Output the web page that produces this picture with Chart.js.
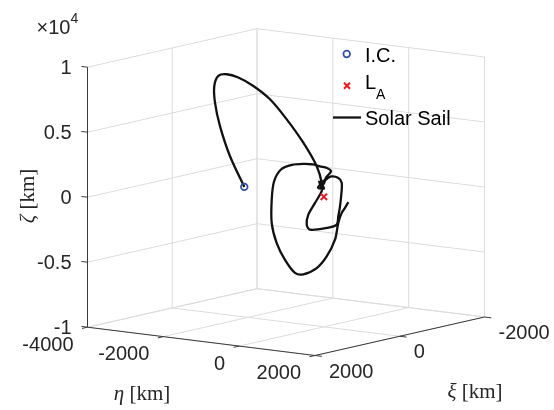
<!DOCTYPE html>
<html>
<head>
<meta charset="utf-8">
<script src="https://cdn.jsdelivr.net/npm/chart.js@4.4.1/dist/chart.umd.min.js"></script>
<style>
  html, body { margin: 0; padding: 0; background: #fff; }
  #wrap { width: 554px; height: 410px; position: relative; }
</style>
</head>
<body>
<div id="wrap"><canvas id="orbit"></canvas></div>
<script>
// trajectory in km (xi, eta, zeta)
const xi = [
  0, 200, 400, 600, 800, 800, 800, 800, 600, 400, 200, 0, 0, 0,
  0, 50, 0, -50, 0, 50,
  0, 100, 200, 300, 300, 300, 200, 100, 0, 0, 0, 0, 0, 0,
  0, 0,
  0, 0, 0, -100, -200, -300, -400, -500, -600, -700, -700, -600, -500, -400, -300, -200, -100, 0, 100, 200, 200, 200
];
const eta = [
  -2100, -2253, -2294, -2202, -1997, -1891, -1670, -1364, -1191, -975, -757, -544, -190, -58,
  -103, 58, -156, -54, -130, 5,
  -103, -123, -188, -119, -32, 408, 561, 491, 424, 458, 469, 371, 187, 29,
  -77, 2,
  55, 187, 81, -215, -512, -887, -1289, -1691, -1987, -2159, -2159, -1916, -1585, -1210, -879, -414, -39, 292, 491, 693, 780, 867
];
const zeta = [
  0, 2451, 4900, 6889, 8393, 9203, 9416, 9273, 8540, 7446, 5834, 3967, 2290, 1056,
  908, 1313, 657, 581, 1130, 598,
  136, -439, -1293, -1966, -2319, -2027, -1790, -1248, -575, 342, 1249, 1599, 1632, 1266,
  763, 1024,
  1507, 2018, 2250, 2183, 2156, 1983, 1685, 1116, 8, -1519, -3319, -4700, -5795, -6587, -6508, -5785, -4679, -3194, -1758, -838, -420, 59
];
const icPoint = [0, -2100, 0];
const laPoint = [0, 0, 0];

const xiTicks = [-2000, 0, 2000];
const xiTickLabels = ['-2000', '0', '2000'];
const etaTicks = [-4000, -2000, 0, 2000];
const etaTickLabels = ['-4000', '-2000', '0', '2000'];
const zetaTicks = [-10000, -5000, 0, 5000, 10000];
const zetaTickLabels = ['-1', '-0.5', '0', '0.5', '1'];

const legendNames = ['I.C.', 'L', 'Solar Sail'];

const xiMin = Math.min(...xiTicks), xiMax = Math.max(...xiTicks);
const etaMin = Math.min(...etaTicks), etaMax = Math.max(...etaTicks);
const zMin = Math.min(...zetaTicks), zMax = Math.max(...zetaTicks);

// screen position of the box corners (view of the 3D axes)
const corner = { front: [315, 355.5], left: [87.5, 327.2], right: [484.5, 317], up: 260 };

function project(x, y, z) {
  const a = (etaMax - y) / (etaMax - etaMin);
  const b = (xiMax - x) / (xiMax - xiMin);
  const c = (z - zMin) / (zMax - zMin);
  return {
    x: corner.front[0] + a * (corner.left[0] - corner.front[0]) + b * (corner.right[0] - corner.front[0]),
    y: corner.front[1] + a * (corner.left[1] - corner.front[1]) + b * (corner.right[1] - corner.front[1]) - c * corner.up
  };
}

const gridColor = '#dcdcdc';
const axisColor = '#3a3a3a';
const datasets = [];

function addLine(p, q, color, width, order) {
  datasets.push({
    data: [project(...p), project(...q)],
    showLine: true, borderColor: color, borderWidth: width,
    pointRadius: 0, tension: 0, order: order
  });
}

// grid on the two back walls and the floor
zetaTicks.forEach(z => {
  addLine([xiMax, etaMin, z], [xiMin, etaMin, z], gridColor, 1, 30);
  addLine([xiMin, etaMin, z], [xiMin, etaMax, z], gridColor, 1, 30);
});
xiTicks.forEach(x => {
  addLine([x, etaMin, zMin], [x, etaMin, zMax], gridColor, 1, 30);
  addLine([x, etaMin, zMin], [x, etaMax, zMin], gridColor, 1, 30);
});
etaTicks.forEach(y => {
  addLine([xiMin, y, zMin], [xiMin, y, zMax], gridColor, 1, 30);
  addLine([xiMax, y, zMin], [xiMin, y, zMin], gridColor, 1, 30);
});

// axis lines + ticks
addLine([xiMax, etaMin, zMin], [xiMax, etaMax, zMin], axisColor, 1, 20);
addLine([xiMax, etaMax, zMin], [xiMin, etaMax, zMin], axisColor, 1, 20);
addLine([xiMax, etaMin, zMin], [xiMax, etaMin, zMax], axisColor, 1, 20);
etaTicks.forEach(y => addLine([xiMax, y, zMin], [xiMax + 130, y, zMin], axisColor, 1, 20));
xiTicks.forEach(x => addLine([x, etaMax, zMin], [x, etaMax + 180, zMin], axisColor, 1, 20));
zetaTicks.forEach(z => addLine([xiMax, etaMin, z], [xiMax, etaMin - 160, z], axisColor, 1, 20));

// trajectory
datasets.push({
  data: xi.map((v, i) => project(v, eta[i], zeta[i])),
  showLine: true, borderColor: '#111', borderWidth: 2.3,
  pointRadius: 0, tension: 0.3, order: 10
});
datasets.push({
  data: [project(...icPoint)],
  pointStyle: 'circle', pointRadius: 3.3, pointBorderWidth: 1.7,
  pointBorderColor: '#2f4fa8', pointBackgroundColor: 'rgba(0,0,0,0)', order: 2
});
datasets.push({
  data: [project(...laPoint)],
  pointStyle: 'crossRot', pointRadius: 4.5, pointBorderWidth: 2,
  pointBorderColor: 'rgb(235,25,30)', order: 1
});

const labelsPlugin = {
  id: 'labels3d',
  afterDatasetsDraw(chart) {
    const ctx = chart.ctx;
    const sx = chart.scales.x, sy = chart.scales.y;
    const px = p => [sx.getPixelForValue(p.x), sy.getPixelForValue(p.y)];
    ctx.save();
    ctx.fillStyle = '#262626';
    ctx.font = '20px "Liberation Sans", Arial, sans-serif';
    ctx.textBaseline = 'middle';

    ctx.textAlign = 'right';
    zetaTicks.forEach((z, i) => {
      const [X, Y] = px(project(xiMax, etaMin, z));
      ctx.fillText(zetaTickLabels[i], X - 16, Y + 1);
    });
    etaTicks.forEach((v, i) => {
      const [X, Y] = px(project(xiMax, v, zMin));
      ctx.fillText(etaTickLabels[i], X - 14, Y + 18);
    });
    ctx.textAlign = 'left';
    xiTicks.forEach((v, i) => {
      const [X, Y] = px(project(v, etaMax, zMin));
      ctx.fillText(xiTickLabels[i], X + 14, Y + 16.5);
    });

    // exponent
    ctx.textBaseline = 'alphabetic';
    ctx.fillText('\u00d710', 36.5, 33.5);
    const w10 = ctx.measureText('\u00d710').width;
    ctx.font = '14px "Liberation Sans", Arial, sans-serif';
    ctx.fillText('4', 36.5 + w10, 23);

    // axis titles (serif, latex-like)
    function title(sym, x, y, rot) {
      ctx.save();
      ctx.translate(x, y);
      if (rot) ctx.rotate(-Math.PI / 2);
      ctx.font = 'italic 21px "Liberation Serif", "DejaVu Serif", serif';
      const w1 = ctx.measureText(sym).width;
      ctx.font = '21px "Liberation Serif", "DejaVu Serif", serif';
      const w2 = ctx.measureText(' [km]').width;
      const x0 = -(w1 + w2) / 2;
      ctx.textAlign = 'left';
      ctx.font = 'italic 21px "Liberation Serif", "DejaVu Serif", serif';
      ctx.fillText(sym, x0, 0);
      ctx.font = '21px "Liberation Serif", "DejaVu Serif", serif';
      ctx.fillText(' [km]', x0 + w1, 0);
      ctx.restore();
    }
    title('\u03b7', 142, 400, false);
    title('\u03be', 475, 398, false);
    title('\u03b6', 34, 196, true);

    // legend
    ctx.font = '20px "Liberation Sans", Arial, sans-serif';
    ctx.textBaseline = 'middle';
    ctx.fillStyle = '#000';
    ctx.fillText(legendNames[0], 365, 56);
    ctx.fillText(legendNames[1], 365, 83);
    const wL = ctx.measureText(legendNames[1]).width;
    ctx.fillText(legendNames[2], 365, 119);
    ctx.font = '14px "Liberation Sans", Arial, sans-serif';
    ctx.fillText('A', 365 + wL, 95);

    ctx.strokeStyle = '#2f4fa8';
    ctx.lineWidth = 1.7;
    ctx.beginPath();
    ctx.arc(346.7, 54, 3.3, 0, Math.PI * 2);
    ctx.stroke();

    ctx.strokeStyle = 'rgb(235,25,30)';
    ctx.lineWidth = 2;
    ctx.beginPath();
    ctx.moveTo(344, 82.8); ctx.lineTo(350, 88.8);
    ctx.moveTo(350, 82.8); ctx.lineTo(344, 88.8);
    ctx.stroke();

    ctx.strokeStyle = '#111';
    ctx.lineWidth = 2.3;
    ctx.beginPath();
    ctx.moveTo(333, 117.5); ctx.lineTo(361, 117.5);
    ctx.stroke();
    ctx.restore();
  }
};

new Chart(document.getElementById('orbit'), {
  type: 'scatter',
  data: { datasets: datasets },
  options: {
    responsive: true,
    maintainAspectRatio: false,
    animation: false,
    events: [],
    layout: { padding: 0, autoPadding: false },
    plugins: { legend: { display: false }, tooltip: { enabled: false } },
    scales: {
      x: { type: 'linear', min: 0, max: 554, display: false },
      y: { type: 'linear', min: 0, max: 410, reverse: true, display: false }
    }
  },
  plugins: [labelsPlugin]
});
</script>
</body>
</html>
